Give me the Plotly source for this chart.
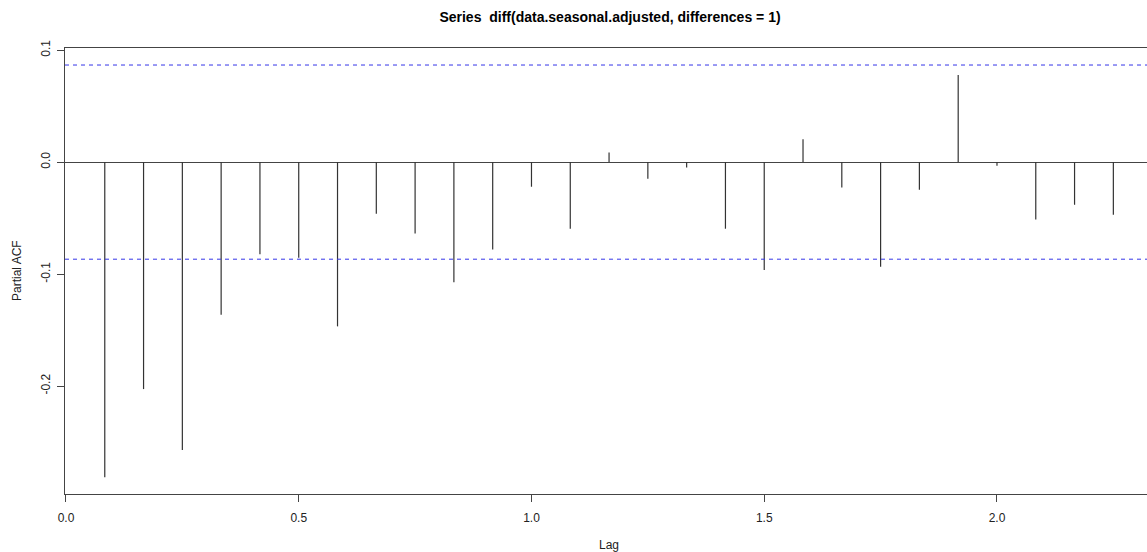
import plotly.graph_objects as go

# Lags (in years, monthly series) and partial autocorrelations
lags = [k / 12 for k in range(1, 28)]
pacf_values = [
    -0.2815, -0.2027, -0.2571, -0.1363, -0.0824, -0.0854, -0.1467, -0.0461, -0.0637,
    -0.1074, -0.0780, -0.0220, -0.0595, 0.0086, -0.0149, -0.0048, -0.0595, -0.0964,
    0.0205, -0.0226, -0.0935, -0.0247, 0.0777, -0.0033, -0.0512, -0.0381, -0.0470,
]
conf_limit = 0.0867
x_ticks = [0.0, 0.5, 1.0, 1.5, 2.0]
y_ticks = [-0.2, -0.1, 0.0, 0.1]
y_tick_labels = ["-0.2", "-0.1", "0.0", "0.1"]

xs, ys = [], []
for lag, v in zip(lags, pacf_values):
    xs += [lag, lag, None]
    ys += [0, v, None]

FONT = "Liberation Sans, Arial, sans-serif"
W, H = 1147, 552
L, T, B = 65, 48, 58
PW = W - L  # plot width in px

fig = go.Figure()
fig.add_trace(go.Scatter(x=xs, y=ys, mode="lines",
                         line=dict(color="#333333", width=1.2),
                         hoverinfo="skip", showlegend=False))

for yv in (conf_limit, -conf_limit):
    fig.add_shape(type="line", xref="paper", yref="y", x0=0, x1=1, y0=yv, y1=yv,
                  line=dict(color="#3535e8", width=1, dash="4px,4px"))

fig.update_layout(
    width=W, height=H,
    margin=dict(l=L, r=0, t=T, b=B),
    paper_bgcolor="white", plot_bgcolor="white",
    font=dict(family=FONT, size=12, color="#222222"),
    title=dict(text="<b>Series  diff(data.seasonal.adjusted, differences = 1)</b>",
               x=(610 - L) / PW, xref="paper", xanchor="center",
               y=1 - 17 / H, yref="container", yanchor="middle",
               font=dict(family=FONT, size=14, color="#000000")),
    showlegend=False,
    hovermode=False,
)

fig.update_xaxes(
    range=[-0.0021, -0.0021 + PW / 465.5], tickvals=x_ticks, tickformat=".1f",
    showgrid=False, zeroline=False,
    showline=True, linecolor="#444444", linewidth=1, mirror=True,
    ticks="outside", ticklen=7, tickcolor="#444444", tickwidth=1,
    tickfont=dict(family=FONT, size=12, color="#222222"),
    ticklabelstandoff=6,
)
fig.update_yaxes(
    range=[-0.2964, 0.1019], tickvals=y_ticks, ticktext=y_tick_labels,
    tickangle=-90, showgrid=False,
    zeroline=True, zerolinecolor="#444444", zerolinewidth=1,
    showline=True, linecolor="#444444", linewidth=1, mirror=False,
    ticks="outside", ticklen=7, tickcolor="#444444", tickwidth=1,
    tickfont=dict(family=FONT, size=12, color="#222222"),
    ticklabelstandoff=2,
)

fig.add_annotation(text="Partial ACF", xref="paper", yref="paper",
                   x=-48 / PW, y=0.5, xanchor="center", yanchor="middle",
                   textangle=-90, showarrow=False,
                   font=dict(family=FONT, size=12, color="#222222"))
fig.add_annotation(text="Lag", xref="paper", yref="paper",
                   x=(609 - L) / PW, y=-51 / (H - T - B), xanchor="center", yanchor="middle",
                   showarrow=False,
                   font=dict(family=FONT, size=12, color="#222222"))

fig.write_html("out.html", config={"displayModeBar": False},
               post_script="document.body.style.margin='0';")
